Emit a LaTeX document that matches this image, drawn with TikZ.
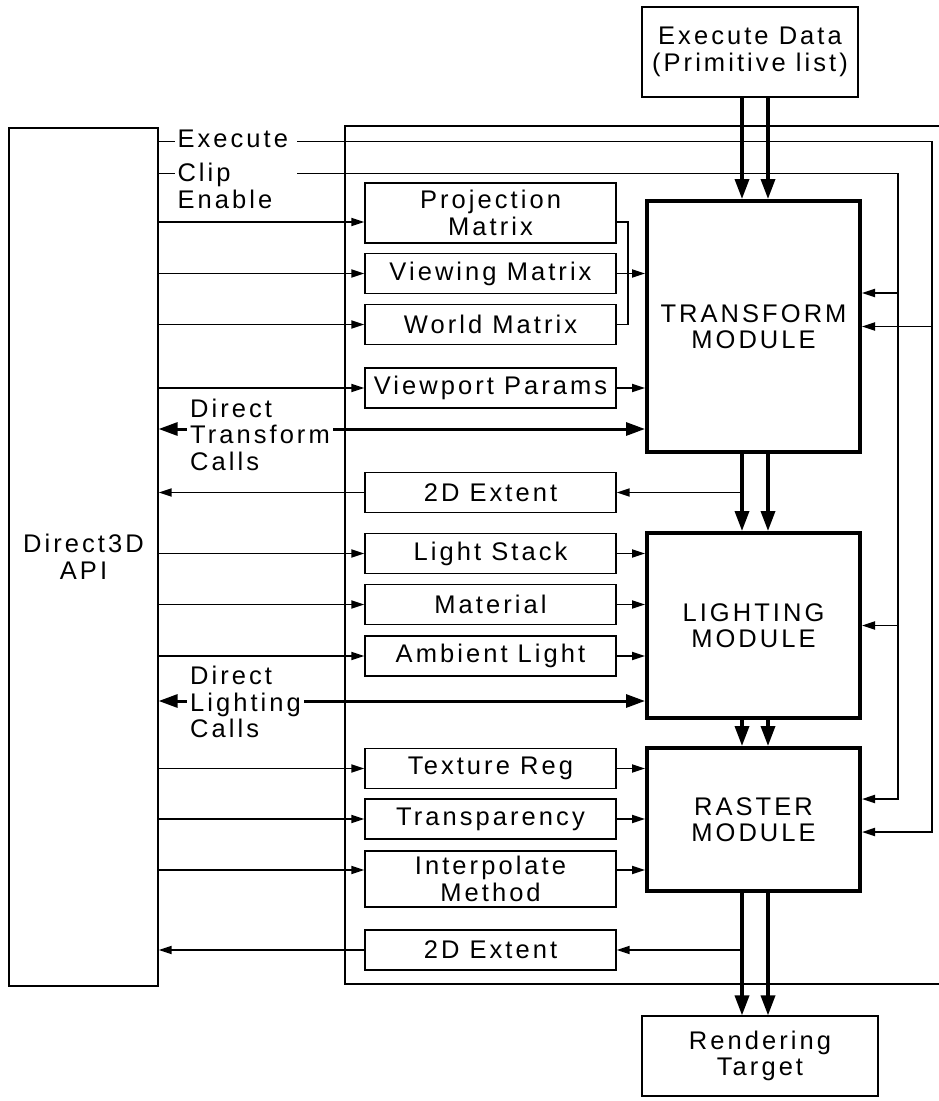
\documentclass[tikz,border=0pt]{standalone}
\usepackage{fontspec}
\setmainfont{Liberation Sans}[LetterSpace=12]
\usetikzlibrary{calc}
\usetikzlibrary{arrows.meta}
\usetikzlibrary{positioning}
\tikzset{>={Triangle[length=13pt,width=8pt]}}
\tikzset{block/.style={draw, line width=1.2pt, text centered, align=center, minimum width=251pt, minimum height=40pt, inner sep=0pt}}
\tikzset{module/.style={draw, line width=4pt, text centered, align=center, minimum width=213pt, inner sep=0pt}}
\tikzset{connect/.style={draw, line width=1.8pt}}
\tikzset{bus/.style={draw, line width=3.5pt, >={Triangle[length=20pt,width=14pt]}}}
\tikzset{calls/.style={draw, line width=3pt, >={Triangle[length=19pt,width=13pt]}}}
\tikzset{lbl/.style={fill=white, inner xsep=3pt, inner ysep=1pt, align=left}}
\begin{document}
\begin{tikzpicture}[x=1pt,y=-1pt,font=\fontsize{25.5}{26.5}\selectfont]
\useasboundingbox (0,0) rectangle (939,1101);

%Direct3D API
\node[block,minimum height=858pt,minimum width=149pt] (d3d) at (83.5,557) {Direct3D\\API};

%frame
\draw[line width=1.2pt] (939,126) -- (345,126) -- (345,984) -- (939,984);

%execute data and rendering target
\node[block,minimum height=90pt,minimum width=216pt] (exdata) at (750,52) {Execute Data\\(Primitive list)};
\node[block,minimum height=80pt,minimum width=236pt] (target) at (760,1056) {Rendering\\Target};

%modules
\node[module,minimum height=251pt] (transform) at (753.5,326.5) {TRANSFORM\\MODULE};
\node[module,minimum height=185pt] (lighting) at (753.5,625.5) {LIGHTING\\MODULE};
\node[module,minimum height=143pt] (raster) at (753.5,819.5) {RASTER\\MODULE};

%transform state
\node[block,minimum height=60pt] (proj) at (490.5,213) {Projection\\Matrix};
\node[block] (view) at (490.5,273.5) {Viewing Matrix};
\node[block] (world) at (490.5,324.5) {World Matrix};
\node[block] (viewport) at (490.5,388) {Viewport Params};
\node[block] (extT) at (490.5,492.5) {2D Extent};
%lighting state
\node[block] (lstack) at (490.5,553.5) {Light Stack};
\node[block] (material) at (490.5,604.5) {Material};
\node[block] (ambient) at (490.5,656) {Ambient Light};
%raster state
\node[block] (texture) at (490.5,768.5) {Texture Reg};
\node[block] (transp) at (490.5,819) {Transparency};
\node[block,minimum height=56pt] (interp) at (490.5,879) {Interpolate\\Method};
\node[block] (extR) at (490.5,950) {2D Extent};

%data path
\coordinate (busa) at (742,0);
\coordinate (busb) at (768,0);
\path[bus,->] (exdata.south -| busa) -- (transform.north -| busa);
\path[bus,->] (exdata.south -| busb) -- (transform.north -| busb);
\path[bus,->] (transform.south -| busa) -- (lighting.north -| busa);
\path[bus,->] (transform.south -| busb) -- (lighting.north -| busb);
\path[bus,->] (lighting.south -| busa) -- (raster.north -| busa);
\path[bus,->] (lighting.south -| busb) -- (raster.north -| busb);
\path[bus,->] (raster.south -| busa) -- (target.north -| busa);
\path[bus,->] (raster.south -| busb) -- (target.north -| busb);

%2D extent feedback
\path[connect,->] (extT.east -| busa) -- (extT.east);
\path[connect,->] (extT.west) -- (extT.west -| d3d.east);
\path[connect,->] (extR.east -| busa) -- (extR.east);
\path[connect,->] (extR.west) -- (extR.west -| d3d.east);

%api to state blocks
\coordinate (projin) at ([yshift=-9pt]proj.west);
\coordinate (interpin) at ([yshift=9pt]interp.west);
\path[connect,->] (projin -| d3d.east) -- (projin);
\path[connect,->] (view.west -| d3d.east) -- (view.west);
\path[connect,->] (world.west -| d3d.east) -- (world.west);
\path[connect,->] (viewport.west -| d3d.east) -- (viewport.west);
\path[connect,->] (lstack.west -| d3d.east) -- (lstack.west);
\path[connect,->] (material.west -| d3d.east) -- (material.west);
\path[connect,->] (ambient.west -| d3d.east) -- (ambient.west);
\path[connect,->] (texture.west -| d3d.east) -- (texture.west);
\path[connect,->] (transp.west -| d3d.east) -- (transp.west);
\path[connect,->] (interpin -| d3d.east) -- (interpin);

%state blocks to modules
\coordinate (projout) at ([yshift=-9pt]proj.east);
\coordinate (interpout) at ([yshift=9pt]interp.east);
\path[connect] (projout) -| ([xshift=11pt]view.east) |- (world.east);
\path[connect,->] (view.east) -- (view.east -| transform.west);
\path[connect,->] (viewport.east) -- (viewport.east -| transform.west);
\path[connect,->] (lstack.east) -- (lstack.east -| lighting.west);
\path[connect,->] (material.east) -- (material.east -| lighting.west);
\path[connect,->] (ambient.east) -- (ambient.east -| lighting.west);
\path[connect,->] (texture.east) -- (texture.east -| raster.west);
\path[connect,->] (transp.east) -- (transp.east -| raster.west);
\path[connect,->] (interpout) -- (interpout -| raster.west);

%direct calls
\coordinate (tcalls) at ([yshift=-102.5pt]transform.west);
\coordinate (lcalls) at ([yshift=-75.5pt]lighting.west);
\path[calls,<->] (tcalls -| d3d.east) -- node[lbl,pos=0,anchor=west,xshift=27pt,yshift=-5.5pt] (tcallslbl) {Direct\\Transform\\Calls} (tcalls);
\path[calls,<->] (lcalls -| d3d.east) -- node[lbl,pos=0,anchor=west,xshift=27pt,yshift=-1pt] (lcallslbl) {Direct\\Lighting\\Calls} (lcalls);

%execute and clip enable
\coordinate (exestart) at ([yshift=-14pt]d3d.north east);
\coordinate (clipstart) at ([yshift=-46pt]d3d.north east);
\coordinate (exebus) at (932,0);
\coordinate (clipbus) at (898,0);
\path[connect,->] (exestart) -- node[lbl,pos=0,anchor=west,xshift=15pt,yshift=3pt,text width=116pt] (exelbl) {Execute} (exestart -| exebus) |- ([yshift=-12.5pt]raster.east);
\path[connect,->] (transform.east -| exebus) -- (transform.east);
\path[connect,->] (clipstart) -- node[lbl,pos=0,anchor=north west,xshift=15pt,yshift=12pt,text width=116pt] (cliplbl) {Clip\\Enable} (clipstart -| clipbus) |- ([yshift=20.5pt]raster.east);
\coordinate (tclip) at ([yshift=33.5pt]transform.east);
\path[connect,->] (tclip -| clipbus) -- (tclip);
\path[connect,->] (lighting.east -| clipbus) -- (lighting.east);

\end{tikzpicture}
\end{document}
